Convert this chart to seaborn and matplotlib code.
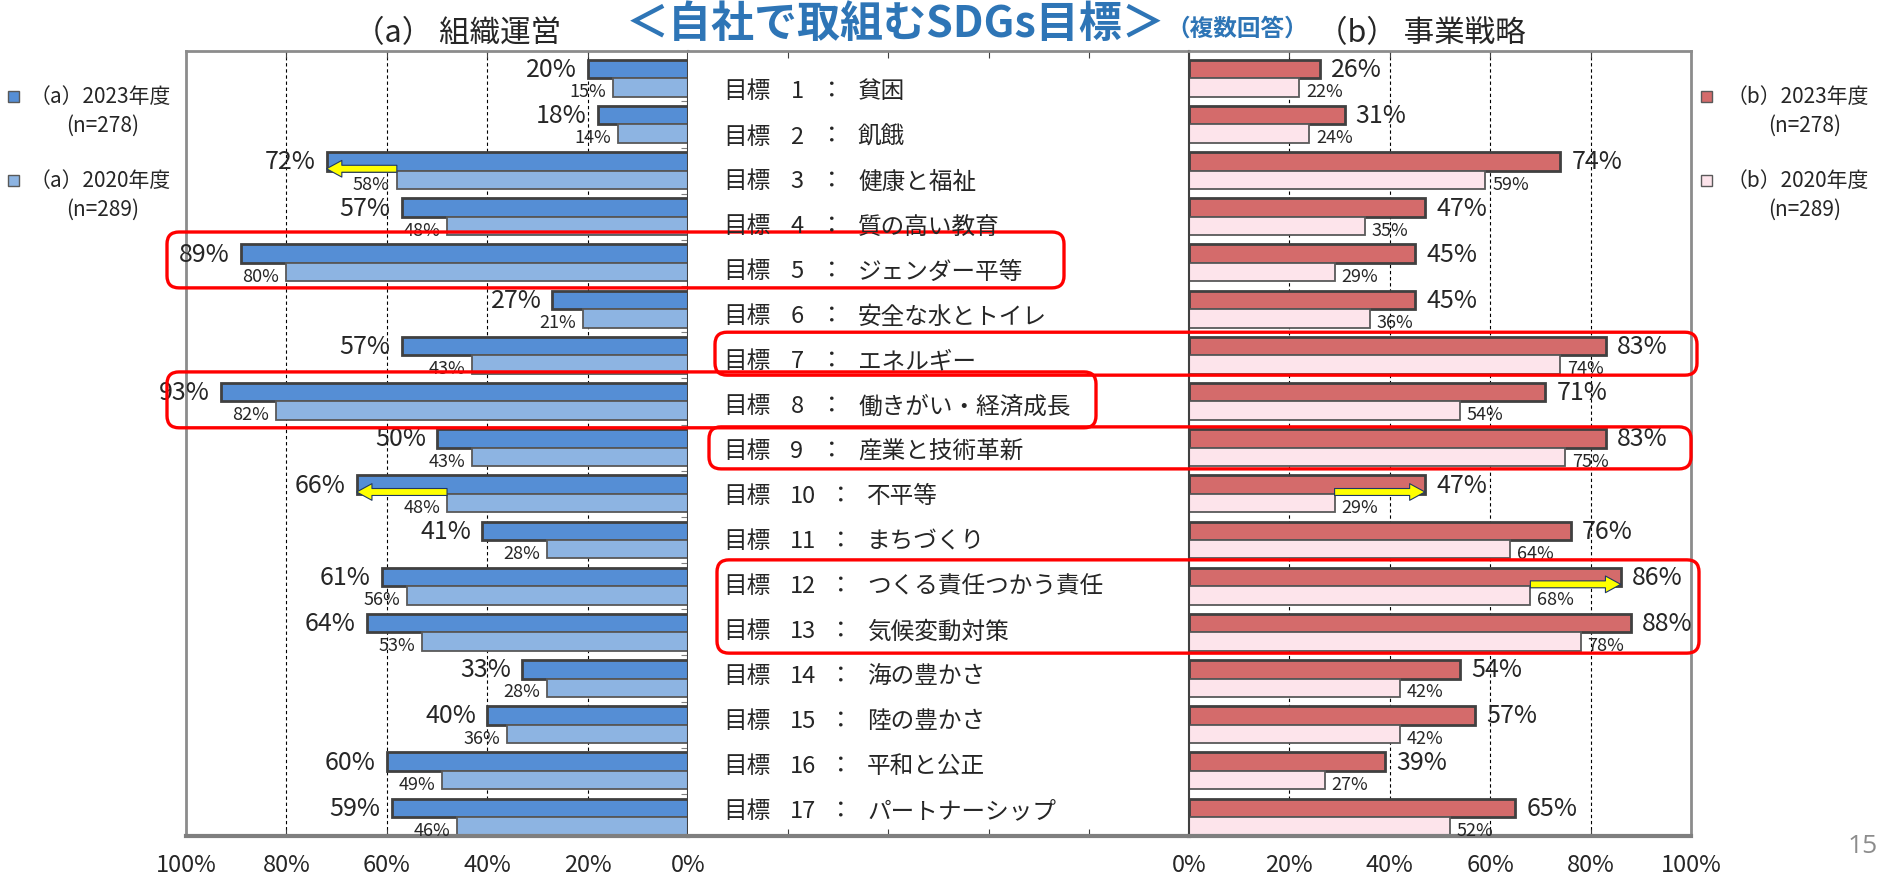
import matplotlib
matplotlib.use('Agg')
import matplotlib.pyplot as plt
from matplotlib import font_manager
from matplotlib.patches import FancyBboxPatch, Rectangle
import pandas as pd
import seaborn as sns

# ---- data ----
goal_nums = [1, 2, 3, 4, 5, 6, 7, 8, 9, 10, 11, 12, 13, 14, 15, 16, 17]
goal_names = ['貧困', '飢餓', '健康と福祉', '質の高い教育', 'ジェンダー平等',
              '安全な水とトイレ', 'エネルギー', '働きがい・経済成長', '産業と技術革新',
              '不平等', 'まちづくり', 'つくる責任つかう責任', '気候変動対策',
              '海の豊かさ', '陸の豊かさ', '平和と公正', 'パートナーシップ']
org_2023 = [20, 18, 72, 57, 89, 27, 57, 93, 50, 66, 41, 61, 64, 33, 40, 60, 59]
org_2020 = [15, 14, 58, 48, 80, 21, 43, 82, 43, 48, 28, 56, 53, 28, 36, 49, 46]
biz_2023 = [26, 31, 74, 47, 45, 45, 83, 71, 83, 47, 76, 86, 88, 54, 57, 39, 65]
biz_2020 = [22, 24, 59, 35, 29, 36, 74, 54, 75, 29, 64, 68, 78, 42, 42, 27, 52]
years = ['2023年度', '2020年度']
sample_n = [278, 289]
pct_ticks = [0, 20, 40, 60, 80, 100]
grid_ticks = [20, 40, 60, 80]

# rows highlighted on the slide (index into goal lists)
arrow_org = [2, 9]
arrow_biz = [9, 11]

# ---- layout (pixels of the 1883x879 slide) ----
W, H = 1883, 879
X_L, X_M, X_R, X_END = 186, 688, 1189, 1691
Y_TOP, Y_BOT = 52, 837
ROW_SHIFT = 0.09  # bars sit slightly low inside the frame

ORG_COLORS = ['#558ED5', '#8DB4E2']
BIZ_COLORS = ['#D46B6B', '#FDE4EB']
FRAME = '#8C8C8C'

sns.set_style('white')
plt.rcParams['font.family'] = ['Noto Sans CJK JP', 'DejaVu Sans']
installed = {f.name for f in font_manager.fontManager.ttflist}
NUM_FONT = ['Liberation Sans Narrow', 'Noto Sans CJK JP'] if 'Liberation Sans Narrow' in installed \
    else ['Noto Sans CJK JP']

fig = plt.figure(figsize=(W / 100, H / 100), dpi=100)


def rect(x0, x1):
    return [x0 / W, 1 - Y_BOT / H, (x1 - x0) / W, (Y_BOT - Y_TOP) / H]


axL = fig.add_axes(rect(X_L, X_M))
axM = fig.add_axes(rect(X_M, X_R))
axR = fig.add_axes(rect(X_R, X_END))
over = fig.add_axes([0, 0, 1, 1], zorder=10)
over.set_xlim(0, W)
over.set_ylim(H, 0)
over.axis('off')


def panel(ax, v23, v20, colors, side):
    df = pd.DataFrame({'goal': goal_names * 2,
                       'year': [years[0]] * len(v23) + [years[1]] * len(v20),
                       'value': v23 + v20})
    sns.barplot(data=df, x='value', y='goal', hue='year', hue_order=years,
                palette=colors, orient='h', width=0.8, saturation=1,
                legend=False, ax=ax)
    for cont, ec, lw in zip(ax.containers, ['#404040', '#595959'], [2.0, 1.3]):
        for bar in cont:
            bar.set_edgecolor(ec)
            bar.set_linewidth(lw)
    ax.set_ylim(len(v23) - 0.5 - ROW_SHIFT, -0.5 - ROW_SHIFT)
    ax.set_xlim((100, 0) if side == 'left' else (0, 100))
    ax.set_xlabel('')
    ax.set_ylabel('')
    for g in grid_ticks:
        ax.axvline(g, color='black', lw=0.8, ls=(0, (3, 2.5)), zorder=0.5)
    ax.set_xticks(pct_ticks)
    ax.set_xticklabels([f'{t}%' for t in pct_ticks], fontsize=17, family=NUM_FONT)
    ax.tick_params(axis='x', direction='in', top=True, bottom=True, length=5,
                   color='#404040', pad=12)
    ax.set_yticks([i + 0.5 for i in range(len(v23) - 1)])
    ax.set_yticklabels([])
    if side == 'left':
        ax.yaxis.tick_right()
    ax.tick_params(axis='y', direction='in', length=5, color='#808080')
    for s in ['top', 'left', 'right']:
        ax.spines[s].set_color(FRAME)
        ax.spines[s].set_linewidth(2)
    ax.spines['bottom'].set_color('#7F7F7F')
    ax.spines['bottom'].set_linewidth(3)
    inner = 'right' if side == 'left' else 'left'
    ax.spines[inner].set_color('#404040')
    ax.spines[inner].set_linewidth(1.5)

    sign = -1 if side == 'left' else 1
    ha = 'right' if side == 'left' else 'left'
    for i, (a, b) in enumerate(zip(v23, v20)):
        ax.annotate(f'{a}%', (a, i - 0.2), xytext=(sign * 8, 0), textcoords='offset points',
                    ha=ha, va='center', fontsize=18, family=NUM_FONT)
        ax.annotate(f'{b}%', (b, i + 0.28), xytext=(sign * 5, 0), textcoords='offset points',
                    ha=ha, va='center', fontsize=13, family=NUM_FONT)


def arrow(ax, old, new, row):
    ax.annotate('', xy=(new, row - 0.04), xytext=(old, row - 0.04),
                arrowprops=dict(arrowstyle='simple,head_length=1.1,head_width=1.2,tail_width=0.5',
                                fc='#FFFF00', ec='#1F3864', lw=0.8, shrinkA=0, shrinkB=0,
                                mutation_scale=10))


panel(axL, org_2023, org_2020, ORG_COLORS, 'left')
panel(axR, biz_2023, biz_2020, BIZ_COLORS, 'right')
for r in arrow_org:
    arrow(axL, org_2020[r], org_2023[r], r)
for r in arrow_biz:
    arrow(axR, biz_2020[r], biz_2023[r], r)

# middle strip holding the goal names
axM.set_xlim(0, 100)
axM.set_ylim(len(goal_names) - 0.5, -0.5)
axM.set_xticks(grid_ticks)
axM.set_xticklabels([])
axM.set_yticks([])
axM.tick_params(axis='x', direction='in', top=True, bottom=True, length=5, color='#404040')
axM.spines['left'].set_visible(False)
axM.spines['right'].set_visible(False)
axM.spines['top'].set_color(FRAME)
axM.spines['top'].set_linewidth(2)
axM.spines['bottom'].set_color('#7F7F7F')
axM.spines['bottom'].set_linewidth(3)

TEXT_Y0, TEXT_DY = 92, 45
for i, (n, name) in enumerate(zip(goal_nums, goal_names)):
    y = TEXT_Y0 + TEXT_DY * i
    shift = 0 if n < 10 else 9
    over.text(723, y, '目標', ha='left', va='center', fontsize=17)
    over.text(797 + shift * 0.7, y, str(n), ha='center', va='center', fontsize=17)
    over.text(832 + shift, y, '：', ha='center', va='center', fontsize=17)
    over.text(858 + shift, y, name, ha='left', va='center', fontsize=17)

# red frames around highlighted goals: (x0, x1, row_top, row_bottom)
ROW_H = (Y_BOT - Y_TOP) / len(goal_names)
frames = [(167, 1064, 3.42, 4.63), (167, 1096, 6.45, 7.66),
          (715, 1697, 5.59, 6.52), (709, 1691, 7.64, 8.55),
          (717, 1699, 10.52, 12.54)]
for x0, x1, r0, r1 in frames:
    y0 = Y_TOP + (r0 + 0.5) * ROW_H
    y1 = Y_TOP + (r1 + 0.5) * ROW_H
    over.add_patch(FancyBboxPatch((x0, y0), x1 - x0, y1 - y0,
                                  boxstyle='round,pad=0,rounding_size=12',
                                  fc='none', ec='#FF0000', lw=2.4))

# titles
over.text(1165, 24, '＜自社で取組むSDGs目標＞', ha='right', va='center', fontsize=31,
          fontweight='bold', color='#2E75B6')
over.text(1166, 29, '（複数回答）', ha='left', va='center', fontsize=17,
          fontweight='bold', color='#2E75B6')
over.text(458, 34, '（a） 組織運営', ha='center', va='center', fontsize=22)
over.text(1421, 34, '（b） 事業戦略', ha='center', va='center', fontsize=22)

# legends
for (sq_x, tx, nx, tag, colors) in [(8, 30, 103, 'a', ORG_COLORS), (1701, 1727, 1805, 'b', BIZ_COLORS)]:
    for k, (yr, n, col) in enumerate(zip(years, sample_n, colors)):
        yc = 97 + 84 * k
        over.add_patch(Rectangle((sq_x, yc - 5), 11, 11, fc=col, ec='#595959', lw=1))
        over.text(tx, yc, f'（{tag}）{yr}', ha='left', va='center', fontsize=15)
        over.text(nx, yc + 29, f'(n={n})', ha='center', va='center', fontsize=15)

over.text(1863, 847, '15', ha='center', va='center', fontsize=19, color='#8C8C8C',
          family='Open Sans')

fig.savefig('out.png', dpi=100, facecolor='white')
